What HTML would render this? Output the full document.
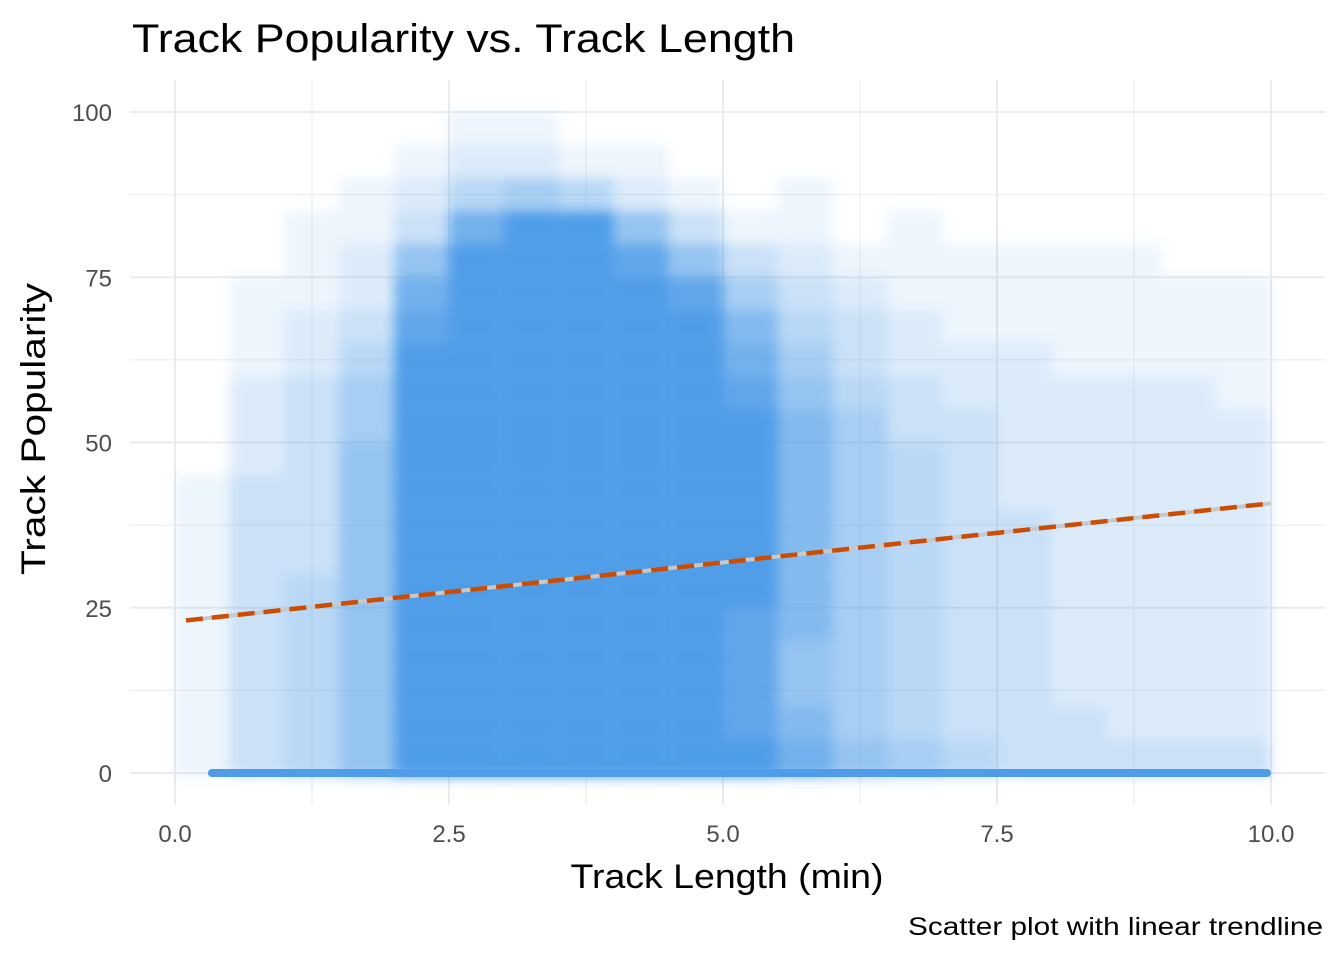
<!DOCTYPE html>
<html><head><meta charset="utf-8"><style>
body{margin:0;background:#fff;}
svg text{font-family:"Liberation Sans",Arial,sans-serif;}
</style></head><body>
<svg id="chart" width="1344" height="960" xmlns="http://www.w3.org/2000/svg">
<defs><filter id="blur" x="-5%" y="-5%" width="110%" height="110%"><feGaussianBlur stdDeviation="6"/></filter></defs>
<text x="132" y="52" font-size="40" textLength="663" lengthAdjust="spacingAndGlyphs" fill="#000">Track Popularity vs. Track Length</text>
<g id="grid"></g>
<g id="density" filter="url(#blur)"></g>
<g id="zeroline"></g>
<g id="trend"></g>
<g id="axes"></g>
<text x="727" y="888" font-size="34" textLength="313" lengthAdjust="spacingAndGlyphs" text-anchor="middle" fill="#000">Track Length (min)</text>
<text transform="translate(45,429) rotate(-90)" font-size="34" textLength="292" lengthAdjust="spacingAndGlyphs" text-anchor="middle" fill="#000">Track Popularity</text>
<text x="1323" y="935" font-size="25" textLength="415" lengthAdjust="spacingAndGlyphs" text-anchor="end" fill="#000">Scatter plot with linear trendline</text>
</svg>
<script>
const xTicks=[0,2.5,5,7.5,10];
const xTickLabels=["0.0","2.5","5.0","7.5","10.0"];
const yTicks=[0,25,50,75,100];
const yTickLabels=["0","25","50","75","100"];
const xBinWidth=0.5, yBinHeight=5;
// density rows from y 95-100 (top) down to 0-5, columns x 0-0.5 ... 9.5-10 (0..10 scale)
const density=[
[0,0,0,0,0,1,1,0,0,0,0,0,0,0,0,0,0,0,0,0],
[0,0,0,0,1,2,2,1,1,0,0,0,0,0,0,0,0,0,0,0],
[0,0,0,1,2,4,5,4,2,1,0,1,0,0,0,0,0,0,0,0],
[0,0,1,1,3,8,10,10,6,3,1,1,0,1,0,0,0,0,0,0],
[0,0,1,2,6,10,10,10,9,6,3,2,1,1,1,1,1,1,0,0],
[0,1,1,2,8,10,10,10,10,9,5,3,2,1,1,1,1,1,1,1],
[0,1,2,3,9,10,10,10,10,10,7,4,3,2,1,1,1,1,1,1],
[0,1,2,4,10,10,10,10,10,10,8,5,3,2,2,2,1,1,1,1],
[0,2,3,5,10,10,10,10,10,10,9,6,4,3,2,2,2,2,2,1],
[0,2,3,5,10,10,10,10,10,10,10,7,5,3,3,2,2,2,2,2],
[0,2,3,6,10,10,10,10,10,10,10,7,5,4,3,2,2,2,2,2],
[1,3,3,6,10,10,10,10,10,10,10,7,5,4,3,2,2,2,2,2],
[1,3,3,6,10,10,10,10,10,10,10,7,5,4,3,3,2,2,2,2],
[1,3,3,6,10,10,10,10,10,10,10,7,5,4,3,3,2,2,2,2],
[1,3,4,6,10,10,10,10,10,10,10,7,5,4,3,3,2,2,2,2],
[1,3,4,6,10,10,10,10,10,10,9,7,5,4,3,3,2,2,2,2],
[1,3,4,6,10,10,10,10,10,10,9,6,5,4,3,3,2,2,2,2],
[1,3,4,6,10,10,10,10,10,10,9,6,5,4,3,3,2,2,2,2],
[1,3,4,6,10,10,10,10,10,10,9,7,5,4,3,3,3,2,2,2],
[1,3,4,6,10,10,10,10,10,10,10,8,6,5,4,3,3,3,3,3]];
const zeroRange=[0.3,10];
const trendIntercept=22.9, trendSlope=1.79;
const trendRange=[0.1,10];

const NS="http://www.w3.org/2000/svg";
const X=v=>175+v*109.6, Y=v=>773-v*6.61;
function mk(tag,attrs,parent){const e=document.createElementNS(NS,tag);for(const k in attrs)e.setAttribute(k,attrs[k]);parent.appendChild(e);return e;}
const grid=document.getElementById('grid'),axes=document.getElementById('axes');
const L=130,R=1325,T=80,B=805;
for(let i=0;i<xTicks.length;i++){
  const x=X(xTicks[i]);
  const g=mk('line',{x1:x,x2:x,y1:T,y2:B,stroke:'#ebebeb','stroke-width':2},grid);
  
  if(i<xTicks.length-1){const xm=X((xTicks[i]+xTicks[i+1])/2);
    const m=mk('line',{x1:xm,x2:xm,y1:T,y2:B,stroke:'#ebebeb','stroke-width':1},grid);
    }
  const t=mk('text',{x:x,y:842,'font-size':24,'text-anchor':'middle',fill:'#4d4d4d'},axes);t.textContent=xTickLabels[i];
  
}
for(let i=0;i<yTicks.length;i++){
  const y=Y(yTicks[i]);
  const g=mk('line',{x1:L,x2:R,y1:y,y2:y,stroke:'#ebebeb','stroke-width':2},grid);
  
  if(i<yTicks.length-1){const ym=Y((yTicks[i]+yTicks[i+1])/2);
    const m=mk('line',{x1:L,x2:R,y1:ym,y2:ym,stroke:'#ebebeb','stroke-width':1},grid);
    }
  const t=mk('text',{x:112,y:y+9,'font-size':24,'text-anchor':'end',fill:'#4d4d4d'},axes);t.textContent=yTickLabels[i];
  
}
const dens=document.getElementById('density');
const nRows=density.length;
density.forEach((row,ri)=>{
  const y0=(nRows-1-ri)*yBinHeight;
  row.forEach((v,ci)=>{
    if(!v)return;
    const x0=ci*xBinWidth;
    const r=mk('rect',{x:X(x0),y:Y(y0+yBinHeight),width:X(x0+xBinWidth)-X(x0),height:Y(y0)-Y(y0+yBinHeight)+(ri==nRows-1?4:0),fill:'#4f9de8','fill-opacity':(v/10).toFixed(2)},dens);
    
  });
});
const z=mk('rect',{x:X(zeroRange[0]),y:Y(0)-4,width:X(zeroRange[1])-X(zeroRange[0]),height:8,fill:'#4f9de8',rx:4},document.getElementById('zeroline'));

const tr=document.getElementById('trend');
const ty=x=>trendIntercept+trendSlope*x;
const g1=mk('line',{x1:X(trendRange[0]),y1:Y(ty(trendRange[0])),x2:X(trendRange[1]),y2:Y(ty(trendRange[1])),stroke:'#c8c8c8','stroke-width':4},tr);

const g2=mk('line',{x1:X(trendRange[0]),y1:Y(ty(trendRange[0])),x2:X(trendRange[1]),y2:Y(ty(trendRange[1])),stroke:'#cc4c02','stroke-width':4.5,'stroke-dasharray':'17,9'},tr);

</script>
</body></html>
